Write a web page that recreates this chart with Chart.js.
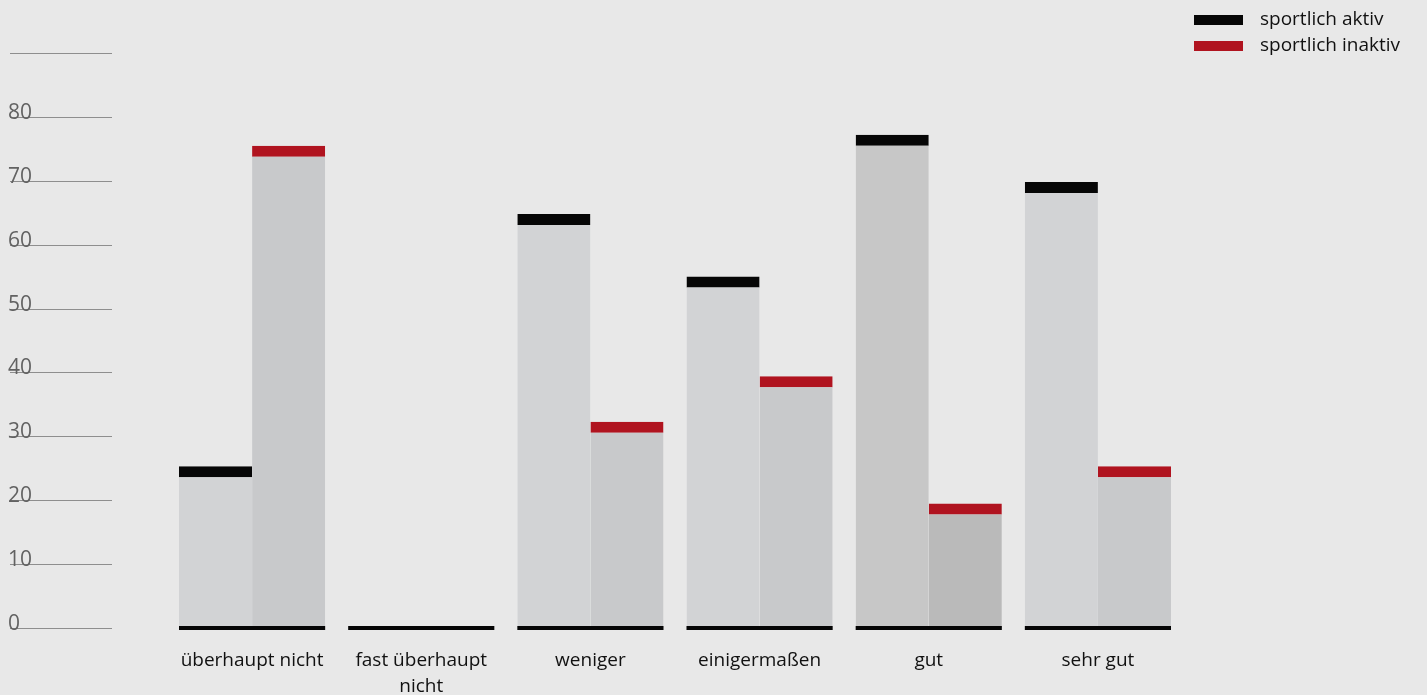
<!DOCTYPE html>
<html lang="de">
<head>
<meta charset="utf-8">
<title>Sportliche Aktivität</title>
<script src="https://cdn.jsdelivr.net/npm/chart.js@4/dist/chart.umd.min.js"></script>
<style>
  html, body { margin: 0; padding: 0; background: #e8e8e8; }
  #wrap { position: relative; width: 1427px; height: 695px; }
</style>
</head>
<body>
<div id="wrap"><canvas id="chart" width="1427" height="695"></canvas></div>
<script>
// Kategorien und Werte
const categories = [
  "überhaupt nicht",
  ["fast überhaupt", "nicht"],
  "weniger",
  "einigermaßen",
  "gut",
  "sehr gut"
];
const aktiv = [25.3, 0, 64.8, 55, 77.2, 69.8];
const inaktiv = [75.5, 0, 32.3, 39.4, 19.5, 25.3];
const yTicks = [0, 10, 20, 30, 40, 50, 60, 70, 80, 90];
const yTickLabels = ["0", "10", "20", "30", "40", "50", "60", "70", "80", ""];
const seriesNames = ["sportlich aktiv", "sportlich inaktiv"];

const FONT = "'Open Sans', 'Liberation Sans', sans-serif";
const CAP_BLACK = "#060606";
const CAP_RED = "#b0131f";

// Achsenlinien, Beschriftungen, Grundlinie und Legende
const decorations = {
  id: "decorations",
  beforeDatasetsDraw(chart) {
    const ctx = chart.ctx;
    const y = chart.scales.y;
    ctx.save();
    ctx.font = "21px " + FONT;
    ctx.fillStyle = "#626262";
    ctx.textAlign = "left";
    ctx.textBaseline = "alphabetic";
    yTicks.forEach((v, i) => {
      const py = Math.round(y.getPixelForValue(v)) + 0.5;
      ctx.strokeStyle = "#8e8e8e";
      ctx.lineWidth = 1;
      ctx.beginPath();
      ctx.moveTo(10, py);
      ctx.lineTo(112, py);
      ctx.stroke();
      if (yTickLabels[i]) ctx.fillText(yTickLabels[i], 8, py + 1);
    });
    ctx.restore();
  },
  afterDatasetsDraw(chart) {
    const ctx = chart.ctx;
    const x = chart.scales.x;
    const y = chart.scales.y;
    const m0 = chart.getDatasetMeta(0).data;
    const m1 = chart.getDatasetMeta(1).data;
    const y0 = y.getPixelForValue(0);
    ctx.save();
    // schwarze Grundlinie je Gruppe
    ctx.fillStyle = "#050505";
    categories.forEach((c, i) => {
      const left = m0[i].x - m0[i].width / 2;
      const right = m1[i].x + m1[i].width / 2;
      ctx.fillRect(left, y0 - 2, right - left, 4);
    });
    // Kategorienbeschriftung
    ctx.font = "19px " + FONT;
    ctx.fillStyle = "#111";
    ctx.textAlign = "center";
    ctx.textBaseline = "middle";
    categories.forEach((c, i) => {
      const cx = x.getPixelForValue(i);
      const lines = Array.isArray(c) ? c : [c];
      lines.forEach((t, k) => ctx.fillText(t, cx, 661 + k * 26));
    });
    // Legende
    const colors = [CAP_BLACK, CAP_RED];
    ctx.textAlign = "left";
    ctx.font = "19px " + FONT;
    seriesNames.forEach((name, k) => {
      const ly = 20 + k * 26;
      ctx.fillStyle = colors[k];
      ctx.fillRect(1194, ly - 5, 49, 10);
      ctx.fillStyle = "#111";
      ctx.fillText(name, 1260, ly);
    });
    ctx.restore();
  }
};

new Chart(document.getElementById("chart"), {
  type: "bar",
  data: {
    labels: categories,
    datasets: [
      {
        label: seriesNames[0],
        data: aktiv,
        backgroundColor: ["#d2d3d5", "#d2d3d5", "#d2d3d5", "#d2d3d5", "#c7c7c7", "#d2d3d5"],
        borderColor: CAP_BLACK,
        borderWidth: { top: 11, right: 0, bottom: 0, left: 0 },
        borderSkipped: "bottom"
      },
      {
        label: seriesNames[1],
        data: inaktiv,
        backgroundColor: ["#c8c9cb", "#c8c9cb", "#c8c9cb", "#c8c9cb", "#bababa", "#c8c9cb"],
        borderColor: CAP_RED,
        borderWidth: { top: 11, right: 0, bottom: 0, left: 0 },
        borderSkipped: "bottom"
      }
    ]
  },
  options: {
    responsive: false,
    animation: false,
    events: [],
    layout: { padding: { left: 167.5, right: 244.5, top: 53, bottom: 67 } },
    datasets: { bar: { categoryPercentage: 0.864, barPercentage: 1.0 } },
    plugins: { legend: { display: false }, tooltip: { enabled: false } },
    scales: {
      x: { display: false, offset: true },
      y: { display: false, min: 0, max: 90 }
    }
  },
  plugins: [decorations]
});
</script>
</body>
</html>
